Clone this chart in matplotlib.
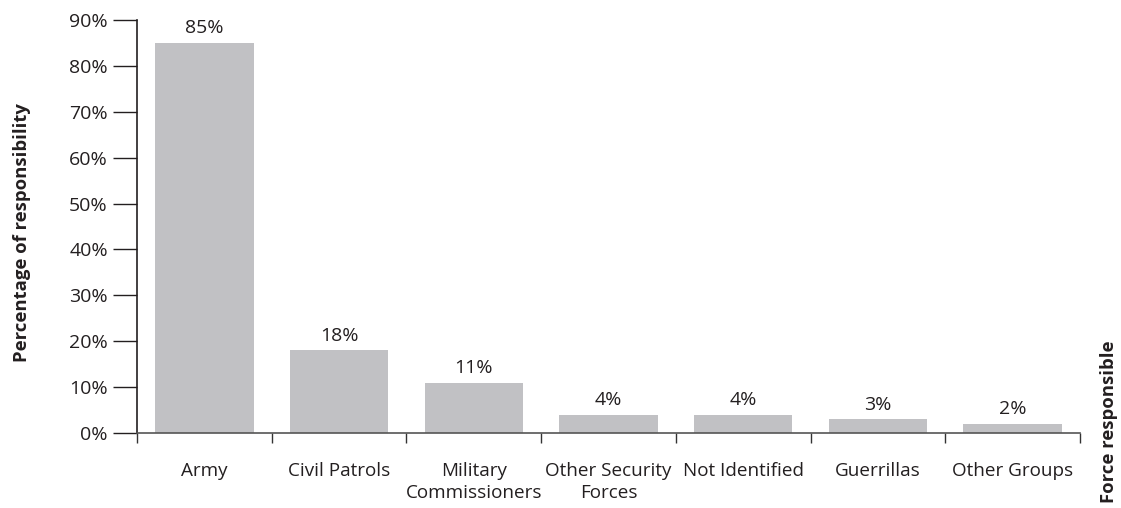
import matplotlib
matplotlib.use("Agg")
import matplotlib.pyplot as plt
import numpy as np

categories = ["Army", "Civil Patrols", "Military\nCommissioners", "Other Security\nForces",
              "Not Identified", "Guerrillas", "Other Groups"]
values = [85, 18, 11, 4, 4, 3, 2]
yticks = [0, 10, 20, 30, 40, 50, 60, 70, 80, 90]

plt.rcParams['font.family'] = ['Open Sans', 'DejaVu Sans']
txt = '#231f20'
fs = 14

fig = plt.figure(figsize=(11.21, 5.08), dpi=100)
ax = fig.add_axes([137/1121, 75/508, (1080-137)/1121, (433-20)/508])

x = np.arange(len(categories))
ax.bar(x, values, width=0.73, color='#c1c1c4', zorder=2)
for xi, v in zip(x, values):
    ax.text(xi, v + 1.2, f"{v}%", ha='center', va='bottom', fontsize=fs, color=txt)

ax.set_xlim(-0.5, len(categories) - 0.5)
ax.set_ylim(0, 90)
ax.set_yticks(yticks)
ax.set_yticklabels([f"{t}%" for t in yticks], fontsize=fs, color=txt)
ax.tick_params(axis='y', length=17, width=1, color=txt, pad=4)

ax.set_xticks(x)
ax.set_xticklabels(categories, fontsize=13.6, color=txt, linespacing=1.3)
ax.tick_params(axis='x', which='major', length=0, pad=21)
ax.set_xticks(np.arange(len(categories) + 1) - 0.5, minor=True)
ax.tick_params(axis='x', which='minor', length=7.5, width=1, color='#333333', direction='out')

for s in ['top', 'right']:
    ax.spines[s].set_visible(False)
ax.spines['left'].set_color(txt)
ax.spines['left'].set_linewidth(1.2)
ax.spines['bottom'].set_color('#555555')
ax.spines['bottom'].set_linewidth(1.2)

fig.text(22/1121, 1 - 233/508, "Percentage of responsibility", rotation=90,
         ha='center', va='center', fontsize=13.3, fontweight='bold', color=txt)
fig.text(1109/1121, 1 - 422/508, "Force responsible", rotation=90,
         ha='center', va='center', fontsize=13.3, fontweight='bold', color=txt)

fig.savefig("out.png", dpi=100)
